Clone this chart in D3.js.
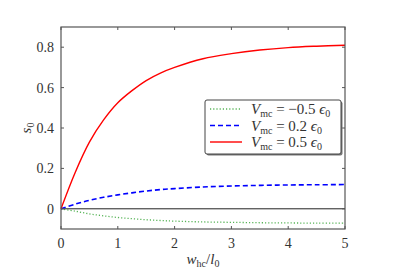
<!DOCTYPE html>
<html>
<head>
<meta charset="utf-8"/>
<script src="https://cdn.jsdelivr.net/npm/d3@7/dist/d3.min.js"></script>
<style>
  body { margin: 0; background: #fff; }
  svg text { font-family: "Liberation Serif", "DejaVu Serif", serif; fill: #333; }
  .frame { fill: none; stroke: #555; stroke-width: 1.2; }
</style>
</head>
<body>
<div id="chart"></div>
<script>
// values
var xs     = [0, 0.25, 0.5, 0.75, 1, 1.25, 1.5, 1.75, 2, 2.5, 3, 3.5, 4, 4.5, 5];
var sNeg05 = [0, -0.012, -0.025, -0.035, -0.043, -0.049, -0.054, -0.058, -0.061, -0.065, -0.067, -0.069, -0.070, -0.071, -0.071];
var sPos02 = [0, 0.023, 0.042, 0.057, 0.069, 0.079, 0.088, 0.095, 0.100, 0.108, 0.113, 0.116, 0.118, 0.119, 0.12];
var sPos05 = [0, 0.18, 0.33, 0.44, 0.525, 0.585, 0.635, 0.672, 0.70, 0.743, 0.768, 0.786, 0.798, 0.805, 0.81];
var xTicks = [0, 1, 2, 3, 4, 5];
var yTicks = [0, 0.2, 0.4, 0.6, 0.8];
var legendLabels = ["\u22120.5", "0.2", "0.5"];

var W = 407, H = 270;
var m = {left: 61, right: 62, top: 27, bottom: 41};

var svg = d3.select("#chart").append("svg")
    .attr("width", W).attr("height", H);

var x = d3.scaleLinear().domain([0, 5]).range([m.left, W - m.right]);
var y = d3.scaleLinear().domain([-0.1, 0.9]).range([H - m.bottom, m.top]);

// zero line
svg.append("line")
    .attr("x1", x(0)).attr("x2", x(5))
    .attr("y1", y(0)).attr("y2", y(0))
    .attr("stroke", "#222").attr("stroke-width", 1);

var series = [
  {vals: sNeg05, color: "#2ca02c", dash: "1.2,2", width: 1.3, opacity: 0.8},
  {vals: sPos02, color: "#0000ff", dash: "5,3", width: 1.6, opacity: 1},
  {vals: sPos05, color: "#ff0000", dash: null, width: 1.4, opacity: 1}
];

var line = d3.line()
    .x(function(d) { return x(d[0]); })
    .y(function(d) { return y(d[1]); })
    .curve(d3.curveCatmullRom.alpha(0.5));

series.forEach(function(s) {
  svg.append("path")
      .datum(xs.map(function(v, i) { return [v, s.vals[i]]; }))
      .attr("d", line)
      .attr("fill", "none")
      .attr("stroke", s.color)
      .attr("stroke-width", s.width)
      .attr("stroke-opacity", s.opacity)
      .attr("stroke-dasharray", s.dash);
});

// frame
svg.append("rect").attr("class", "frame")
    .attr("x", x(0)).attr("y", y(0.9))
    .attr("width", x(5) - x(0)).attr("height", y(-0.1) - y(0.9));

// ticks on all sides, pointing in
var tk = 3;
xTicks.forEach(function(t) {
  svg.append("line").attr("x1", x(t)).attr("x2", x(t))
     .attr("y1", y(-0.1)).attr("y2", y(-0.1) - tk).attr("stroke", "#555");
  svg.append("line").attr("x1", x(t)).attr("x2", x(t))
     .attr("y1", y(0.9)).attr("y2", y(0.9) + tk).attr("stroke", "#555");
  svg.append("text").attr("x", x(t)).attr("y", y(-0.1) + 19)
     .attr("text-anchor", "middle").attr("font-size", 14).text(t);
});
yTicks.forEach(function(t) {
  svg.append("line").attr("x1", x(0)).attr("x2", x(0) + tk)
     .attr("y1", y(t)).attr("y2", y(t)).attr("stroke", "#555");
  svg.append("line").attr("x1", x(5)).attr("x2", x(5) - tk)
     .attr("y1", y(t)).attr("y2", y(t)).attr("stroke", "#555");
  svg.append("text").attr("x", x(0) - 7).attr("y", y(t) + 5)
     .attr("text-anchor", "end").attr("font-size", 14).text(t === 0 ? "0" : t.toFixed(1));
});

// axis labels
var xl = svg.append("text").attr("x", (x(0) + x(5)) / 2).attr("y", 264)
    .attr("text-anchor", "middle").attr("font-size", 15);
xl.append("tspan").attr("font-style", "italic").text("w");
xl.append("tspan").attr("font-size", 10).attr("dy", 3).text("hc");
xl.append("tspan").attr("dy", -3).text("/");
xl.append("tspan").attr("font-style", "italic").text("l");
xl.append("tspan").attr("font-size", 10).attr("dy", 3).text("0");

var yl = svg.append("text")
    .attr("transform", "translate(31," + y(0.4) + ") rotate(-90)")
    .attr("text-anchor", "middle").attr("font-size", 15);
yl.append("tspan").attr("font-style", "italic").text("s");
yl.append("tspan").attr("font-size", 10).attr("dy", 3).text("0");

// legend
var lg = svg.append("g").attr("transform", "translate(205,100)");
lg.append("rect").attr("x", 1.5).attr("y", 1.5).attr("width", 136).attr("height", 54)
  .attr("rx", 2).attr("fill", "#777");
lg.append("rect").attr("x", 0).attr("y", 0).attr("width", 136).attr("height", 54)
  .attr("rx", 2).attr("fill", "#fff").attr("stroke", "#444").attr("stroke-width", 1);

series.forEach(function(s, i) {
  var yy = 9 + i * 16.5;
  lg.append("line").attr("x1", 5).attr("x2", 37).attr("y1", yy).attr("y2", yy)
    .attr("stroke", s.color).attr("stroke-width", s.width)
    .attr("stroke-opacity", s.opacity).attr("stroke-dasharray", s.dash);
  var t = lg.append("text").attr("x", 46).attr("y", yy + 5).attr("font-size", 15);
  t.append("tspan").attr("font-style", "italic").text("V");
  t.append("tspan").attr("font-size", 10).attr("dy", 3).text("mc");
  t.append("tspan").attr("dy", -3).text(" = " + legendLabels[i] + " ");
  t.append("tspan").attr("font-style", "italic").text("\u03f5");
  t.append("tspan").attr("font-size", 10).attr("dy", 3).text("0");
});
</script>
</body>
</html>
